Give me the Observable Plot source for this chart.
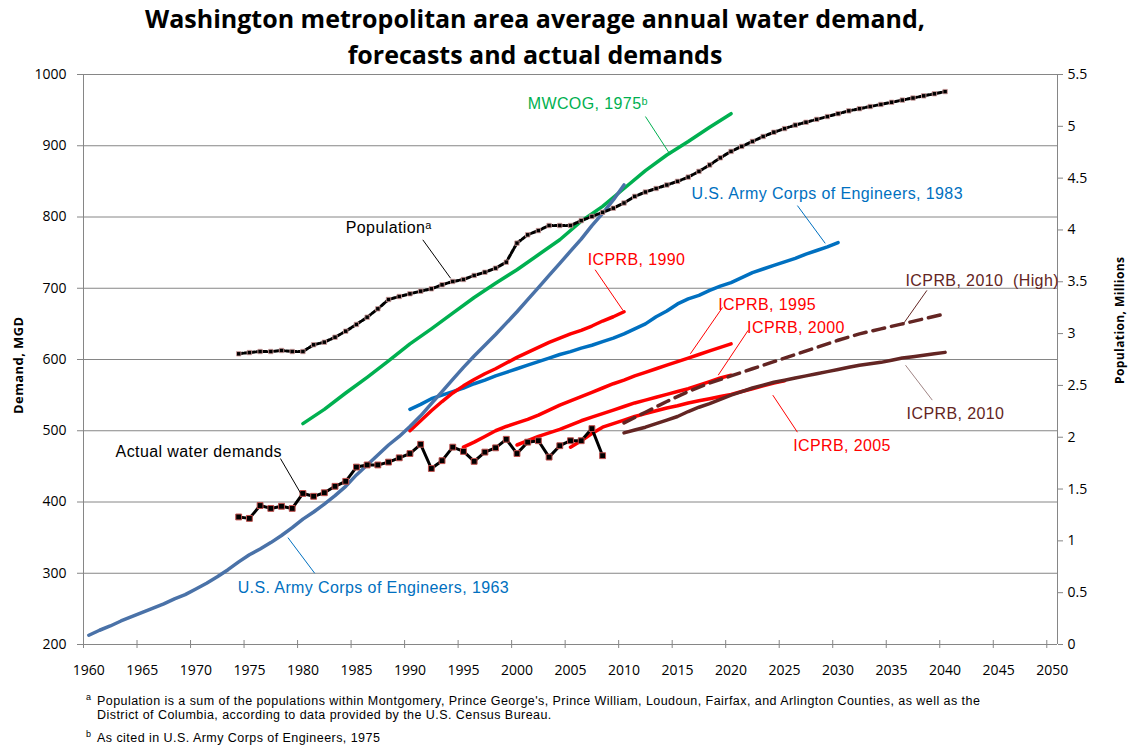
<!DOCTYPE html>
<html>
<head>
<meta charset="utf-8">
<script src="https://cdn.jsdelivr.net/npm/d3@7"></script>
<script src="https://cdn.jsdelivr.net/npm/@observablehq/plot@0.6"></script>
<style>
  body { margin: 0; background: #fff; width: 1128px; height: 746px; overflow: hidden; position: relative; font-family: "Open Sans", sans-serif; }
  #title { position: absolute; left: 0; top: 0; z-index: 2; width: 1070px; text-align: center; font-weight: 700; font-size: 25px; line-height: 36px; color: #000; white-space: nowrap; }
  #chart { padding-top: 50px; }
  #chart svg { display: block; }
  #chart g[aria-label="text"] text { letter-spacing: 0.4px; }
  .fn { position: absolute; font-family: "Liberation Sans", Arial, sans-serif; font-size: 12.5px; letter-spacing: 0.45px; line-height: 14px; color: #000; white-space: nowrap; }
  .sup { position: absolute; font-family: "Liberation Sans", Arial, sans-serif; font-size: 9px; line-height: 10px; color: #000; }
</style>
</head>
<body>
<div id="title">Washington metropolitan area average annual water demand,<br>forecasts and actual demands</div>
<div id="chart"></div>
<div class="sup" style="left:86px;top:692px;">a</div>
<div class="fn" style="left:97px;top:694px;">Population is a sum of the populations within Montgomery, Prince George's, Prince William, Loudoun, Fairfax, and Arlington Counties, as well as the</div>
<div class="fn" style="left:97px;top:708px;">District of Columbia, according to data provided by the U.S. Census Bureau.</div>
<div class="sup" style="left:86px;top:729px;">b</div>
<div class="fn" style="left:97px;top:731px;">As cited in U.S. Army Corps of Engineers, 1975</div>
<script>
// ---------- DATA (MGD unless noted) ----------
const demandTicks = [200, 300, 400, 500, 600, 700, 800, 900, 1000];
const popTicks = [0, 0.5, 1, 1.5, 2, 2.5, 3, 3.5, 4, 4.5, 5, 5.5];   // millions
const xLabelYears = d3.range(1960, 2051, 5);

// U.S. Army Corps of Engineers, 1963 forecast (1960-2010)
const usace1963Start = 1960;
const usace1963 = [213, 220, 226, 233, 239, 245, 251, 257, 264, 270, 278, 286, 295, 305, 316, 326, 334, 343, 353, 364,
  376, 386, 397, 409, 422, 438, 452, 466, 480, 492, 506, 521, 538, 555, 572, 589, 605, 620, 635, 651,
  667, 684, 701, 718, 735, 752, 769, 788, 805, 824, 845];

// MWCOG, 1975 forecast
const mwcogYears = [1980, 1982, 1984, 1986, 1988, 1990, 1992, 1994, 1996, 1998, 2000, 2002, 2004, 2006, 2008, 2010, 2012, 2014, 2016, 2018, 2020];
const mwcog = [510, 530, 553, 575, 598, 622, 643, 665, 687, 707, 726, 747, 768, 794, 815, 840, 865, 887, 906, 926, 945];

// U.S. Army Corps of Engineers, 1983 forecast (1990-2030)
const usace1983Start = 1990;
const usace1983 = [530, 537, 545, 550, 555, 560, 566, 571, 577, 582, 587, 592, 597, 602, 607, 611, 616, 620, 625, 630,
  636, 643, 650, 660, 668, 678, 685, 690, 697, 703, 708, 715, 722, 727, 732, 737, 742, 748, 753, 758, 764];

// ICPRB forecasts
const icprb1990Start = 1990;
const icprb1990 = [500, 514, 528, 541, 553, 563, 572, 580, 587, 595, 603, 610, 617, 624, 630, 636, 641, 647, 654, 660, 667];
const icprb1995Start = 1995;
const icprb1995 = [477, 484, 492, 500, 506, 511, 516, 522, 529, 536, 542, 548, 554, 560, 566, 571, 577, 582, 587, 592, 597, 602, 607, 612, 617, 622];
const icprb2000Start = 2000;
const icprb2000 = [480, 486, 492, 497, 502, 508, 514, 519, 524, 529, 534, 539, 543, 547, 551, 555, 559, 564, 569, 574, 578];
const icprb2005Start = 2005;
const icprb2005 = [477, 486, 496, 505, 510, 515, 520, 524, 528, 532, 535, 539, 542, 545, 548, 551, 555, 559, 563, 567, 570];
const icprb2010Start = 2010;
const icprb2010 = [497, 501, 505, 510, 515, 520, 527, 533, 538, 544, 550, 555, 560, 564, 568, 571, 574, 577, 580, 583,
  586, 589, 592, 594, 596, 599, 602, 604, 606, 608, 610];
const icprb2010HighYears = [2010, 2012, 2014, 2016, 2018, 2020, 2022, 2024, 2026, 2028, 2030, 2032, 2034, 2036, 2038, 2040];
const icprb2010High = [511, 526, 541, 555, 567, 577, 587, 597, 607, 617, 627, 636, 643, 650, 657, 664];

// Actual water demands (1974-2008)
const actualStart = 1974;
const actual = [379, 377, 395, 391, 394, 391, 412, 408, 413, 422, 429, 449, 452, 452, 456, 462, 468, 481, 447, 458,
  477, 471, 457, 470, 476, 488, 468, 484, 486, 463, 479, 486, 486, 503, 465];

// Population, millions (1974-2040)
const popStart = 1974;
const population = [2.805, 2.817, 2.827, 2.827, 2.837, 2.827, 2.827, 2.892, 2.917, 2.965, 3.023, 3.088, 3.158, 3.239,
  3.329, 3.358, 3.384, 3.409, 3.432, 3.471, 3.503, 3.522, 3.561, 3.592, 3.631, 3.689,
  3.873, 3.953, 3.994, 4.043, 4.043, 4.043, 4.09, 4.13, 4.17, 4.21, 4.26,
  4.324, 4.366, 4.40, 4.434, 4.469, 4.51, 4.565, 4.627, 4.696, 4.758,
  4.806, 4.854, 4.902, 4.943, 4.978, 5.012, 5.039, 5.067, 5.094, 5.122,
  5.149, 5.17, 5.191, 5.211, 5.232, 5.253, 5.273, 5.294, 5.314, 5.335];

// ---------- annotation layout (data coordinates) ----------
const labels = [
  {text: "MWCOG, 1975ᵇ", x: 2001.0, y: 959, color: "#00b050"},
  {text: "U.S. Army Corps of Engineers, 1983", x: 2016.3, y: 832, color: "#0070c0"},
  {text: "Populationᵃ", x: 1984.0, y: 785, color: "#000000"},
  {text: "ICPRB, 1990", x: 2006.6, y: 740, color: "#ff0000"},
  {text: "ICPRB, 1995", x: 2018.8, y: 676, color: "#ff0000"},
  {text: "ICPRB, 2000", x: 2021.5, y: 645, color: "#ff0000"},
  {text: "ICPRB, 2010  (High)", x: 2036.3, y: 711, color: "#632523"},
  {text: "ICPRB, 2010", x: 2036.4, y: 524, color: "#632523"},
  {text: "ICPRB, 2005", x: 2025.8, y: 479, color: "#ff0000"},
  {text: "Actual water demands", x: 1962.5, y: 471, color: "#000000"},
  {text: "U.S. Army Corps of Engineers, 1963", x: 1973.9, y: 279, color: "#0070c0"}
];
const leaders = [
  {x1: 2012.0, y1: 941, x2: 2014.3, y2: 888, color: "#00b050"},
  {x1: 2026.2, y1: 816, x2: 2028.8, y2: 763, color: "#0070c0"},
  {x1: 1991.2, y1: 768, x2: 1993.8, y2: 714, color: "#000000"},
  {x1: 2007.3, y1: 726, x2: 2009.9, y2: 669, color: "#ff0000"},
  {x1: 2019.2, y1: 673, x2: 2016.2, y2: 608, color: "#ff0000"},
  {x1: 2021.6, y1: 641, x2: 2018.8, y2: 578, color: "#ff0000"},
  {x1: 2038.3, y1: 697, x2: 2036.0, y2: 648, color: "#632523"},
  {x1: 2036.3, y1: 592, x2: 2038.8, y2: 543, color: "#a08585"},
  {x1: 2023.9, y1: 550, x2: 2026.2, y2: 498, color: "#ff0000"},
  {x1: 1977.9, y1: 461, x2: 1979.8, y2: 412, color: "#000000"},
  {x1: 1978.6, y1: 350, x2: 1981.1, y2: 300, color: "#0070c0"}
];
const axisTitles = [
  {text: "Demand, MGD", side: "left", y: 592},
  {text: "Population, Millions", side: "right", y: 655}
];

// ---------- build ----------
const fromStart = (start, arr) => arr.map((v, i) => ({year: start + i, value: v}));
const fromYears = (years, arr) => arr.map((v, i) => ({year: years[i], value: v}));
const popToMGD = p => 200 + p * (1000 - 200) / 5.5;
const fmtPop = d => String(Math.round((d - 200) * 5.5 / 800 * 10) / 10);

const X0 = 1959.5, X1 = 2050.5;
const xTickPos = d3.range(X0, X1 + 0.01, 5);
const gray = "#868686";
const lw = 3.5;

const popData = fromStart(popStart, population);
const actualData = fromStart(actualStart, actual);

const chart = Plot.plot({
  width: 1128, height: 630,
  marginLeft: 83, marginRight: 71, marginTop: 24, marginBottom: 36,
  x: {domain: [X0, X1]},
  y: {domain: [200, 1000]},
  color: {type: "identity"},
  style: {fontFamily: "'Open Sans', sans-serif", fontSize: "14px", color: "#000", background: "white"},
  marks: [
    Plot.ruleY(demandTicks, {stroke: gray, strokeWidth: 1}),
    Plot.ruleX([X0, X1], {stroke: gray, strokeWidth: 1}),
    Plot.axisY(demandTicks, {anchor: "left", tickSize: 6, tickPadding: 11, stroke: gray, fill: "#000", label: null, tickFormat: d => String(d), fontSize: 14}),
    Plot.axisY(popTicks.map(popToMGD), {anchor: "right", tickSize: 5, tickPadding: 5, stroke: gray, fill: "#000", label: null, tickFormat: fmtPop, fontSize: 14}),
    Plot.axisX(xTickPos, {anchor: "bottom", tickSize: 8, dy: -4, stroke: gray, label: null, tickFormat: () => ""}),
    Plot.axisX(xLabelYears, {anchor: "bottom", tickSize: 0, tickPadding: 21, fill: "#000", label: null, tickFormat: d => String(d), fontSize: 14}),
    Plot.text(axisTitles.filter(d => d.side === "left"), {x: () => X0, y: "y", text: "text", rotate: -90, dx: -65, fontWeight: "bold", fontSize: 13, fill: "#000"}),
    Plot.text(axisTitles.filter(d => d.side === "right"), {x: () => X1, y: "y", text: "text", rotate: -90, dx: 63, fontWeight: "bold", fontSize: 12, fill: "#000"}),

    // forecasts
    Plot.line(fromStart(icprb2005Start, icprb2005), {x: "year", y: "value", stroke: "#ff0000", strokeWidth: lw}),
    Plot.line(fromStart(icprb2000Start, icprb2000), {x: "year", y: "value", stroke: "#ff0000", strokeWidth: lw}),
    Plot.line(fromStart(icprb2010Start, icprb2010), {x: "year", y: "value", stroke: "#632523", strokeWidth: lw}),
    Plot.line(fromYears(icprb2010HighYears, icprb2010High), {x: "year", y: "value", stroke: "#632523", strokeWidth: lw, strokeDasharray: "12,7"}),
    Plot.line(fromStart(icprb1995Start, icprb1995), {x: "year", y: "value", stroke: "#ff0000", strokeWidth: lw}),
    Plot.line(fromStart(usace1983Start, usace1983), {x: "year", y: "value", stroke: "#0070c0", strokeWidth: lw}),
    Plot.line(fromStart(icprb1990Start, icprb1990), {x: "year", y: "value", stroke: "#ff0000", strokeWidth: lw}),
    Plot.line(fromYears(mwcogYears, mwcog), {x: "year", y: "value", stroke: "#00b050", strokeWidth: lw}),
    Plot.line(fromStart(usace1963Start, usace1963), {x: "year", y: "value", stroke: "#4a72a8", strokeWidth: lw}),

    // population (right axis)
    Plot.line(popData, {x: "year", y: d => popToMGD(d.value), stroke: "#000", strokeWidth: 3, strokeDasharray: "4,2"}),
    Plot.dot(popData, {x: "year", y: d => popToMGD(d.value), symbol: "square", r: 2.5, fill: "#000", stroke: "#d9a3a3", strokeWidth: 0.8}),

    // actual demands
    Plot.line(actualData, {x: "year", y: "value", stroke: "#000", strokeWidth: 3}),
    Plot.dot(actualData, {x: "year", y: "value", symbol: "square", r: 3.3, fill: "#000", stroke: "#c0504d", strokeWidth: 1}),

    // annotations
    Plot.link(leaders, {x1: "x1", y1: "y1", x2: "x2", y2: "y2", stroke: "color", strokeWidth: 1}),
    Plot.text(labels, {x: "x", y: "y", text: "text", fill: "color", textAnchor: "start", fontSize: 16, fontFamily: "'Liberation Sans', Arial, sans-serif"})
  ]
});
document.getElementById("chart").appendChild(chart);
</script>
</body>
</html>
